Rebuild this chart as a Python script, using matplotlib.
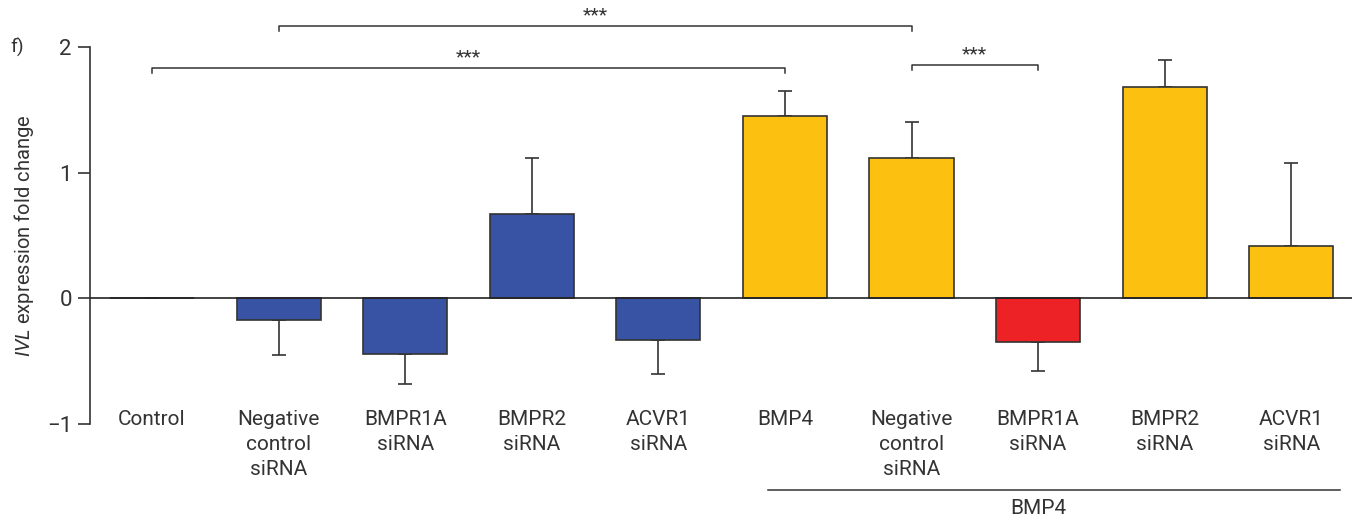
import matplotlib
matplotlib.use("Agg")
import matplotlib.pyplot as plt
import numpy as np

plt.rcParams['font.family'] = ['Roboto', 'DejaVu Sans']
plt.rcParams['mathtext.fontset'] = 'custom'
plt.rcParams['mathtext.it'] = 'Roboto:italic'

categories = ["Control", "Negative\ncontrol\nsiRNA", "BMPR1A\nsiRNA", "BMPR2\nsiRNA", "ACVR1\nsiRNA",
              "BMP4", "Negative\ncontrol\nsiRNA", "BMPR1A\nsiRNA", "BMPR2\nsiRNA", "ACVR1\nsiRNA"]
fold_change = [0.0, -0.17, -0.44, 0.67, -0.33, 1.45, 1.12, -0.35, 1.68, 0.42]
sem = [0.0, 0.28, 0.24, 0.45, 0.27, 0.20, 0.28, 0.23, 0.22, 0.66]
BLUE, YELLOW, RED = '#3953a4', '#fcc010', '#ec2227'
bar_colors = ['white', BLUE, BLUE, BLUE, BLUE, YELLOW, YELLOW, RED, YELLOW, YELLOW]
# (left bar, right bar, bracket height)
brackets = [(1, 6, 2.167), (0, 5, 1.833), (6, 7, 1.857)]

fig = plt.figure(figsize=(13.57, 5.19), dpi=100)
ax = fig.add_axes([90/1357, 95/519, (1352-90)/1357, (424-47)/519])

x = np.arange(len(categories))
vals = np.array(fold_change)
ax.bar(x, vals, width=0.665, color=bar_colors, edgecolor='#333333', linewidth=1.2, zorder=2)

# one-sided error bars pointing away from zero
lower = np.where(vals < 0, sem, 0)
upper = np.where(vals >= 0, sem, 0)
ax.errorbar(x, vals, yerr=[lower, upper], fmt='none', ecolor='#333333',
            elinewidth=1.2, capsize=5, capthick=1.2, zorder=1)

ax.axhline(0, color='#222222', lw=1.2, zorder=3)
ax.set_xlim(-0.49, 9.48)
ax.set_ylim(-1, 2)
ax.set_yticks([-1, 0, 1, 2])
ax.set_yticklabels(['\u22121', '0', '1', '2'], fontsize=16, color='#333333')
ax.tick_params(axis='y', length=9, width=1.2, color='#333333', pad=4)
ax.set_xticks([])
for s in ['top', 'right', 'bottom']:
    ax.spines[s].set_visible(False)
ax.spines['left'].set_linewidth(1.2)
ax.spines['left'].set_color('#333333')
ax.set_ylabel(r'$\mathit{IVL}$ expression fold change', fontsize=14.5, color='#333333', labelpad=8)

for xi, lab in zip(x, categories):
    ax.text(xi, -0.885, lab, ha='center', va='top', fontsize=15, color='#333333',
            linespacing=1.4, clip_on=False)

for a, b, h in brackets:
    ax.plot([a, a, b, b], [h - 0.04, h, h, h - 0.04], color='#333333', lw=1.1, clip_on=False)
    ax.text((a + b) / 2, h + 0.015, '***', ha='center', va='bottom', fontsize=14,
            color='#333333', clip_on=False)

fig.text(10/1357, 1 - 47/519, 'f)', fontsize=14, color='#333333', va='center')
fig.add_artist(plt.Line2D([768/1357, 1340/1357], [1 - 490/519, 1 - 490/519],
                          color='#333333', lw=1.1))
fig.text(1038/1357, 1 - 509/519, 'BMP4', fontsize=15, color='#333333', ha='center', va='center')

fig.savefig('out.png', dpi=100)
